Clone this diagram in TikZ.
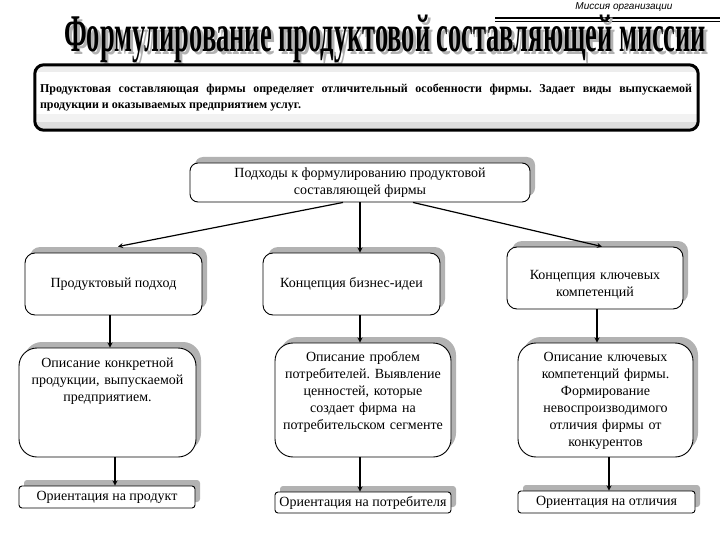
\documentclass[tikz,border=0pt]{standalone}
\usepackage{fontspec}
\setmainfont{Liberation Serif}
\newfontfamily\tagfont{Liberation Sans}
\usepackage{xcolor}
\usepackage{tikz}
\usetikzlibrary{calc, positioning, shadows}
\frenchspacing

\begin{document}
\begin{tikzpicture}[>=stealth, x=1pt, y=-1pt,
    font=\fontsize{14}{17}\selectfont,
    shadowbox/.style={draw, fill=white, line width=0.9pt, inner sep=0pt,
        drop shadow={shadow xshift=5pt, shadow yshift=6pt, fill=black!30, opacity=1}},
    headbox/.style={shadowbox, rounded corners=10pt, minimum width=177pt, minimum height=62pt, align=center},
    descbox/.style={shadowbox, rounded corners=18pt, minimum width=176pt},
    orientbox/.style={shadowbox, rounded corners=3pt, minimum width=176pt, minimum height=22pt},
    desctext/.style={inner sep=0pt, align=center, text width=176pt},
    arr/.style={->, line width=1.2pt}]

    \useasboundingbox (0,0) rectangle (720,540);

    % =================================================================
    % 1. ЗАГОЛОВОК
    % =================================================================
    \node[anchor=base, inner sep=0pt, font=\tagfont\itshape\fontsize{10}{12}\selectfont] (tag) at (624,10) {Миссия организации};
    \draw[line width=2pt] (495,18) -- (720,18);
    \draw[line width=0.8pt] (495,21.5) -- (720,21.5);

    % тень заголовка и сам заголовок
    \node[anchor=base west, inner sep=0pt, text=black!30] at (67,55)
        {\resizebox{642pt}{\height}{\fontsize{53}{53}\selectfont\bfseries Формулирование продуктовой составляющей миссии}};
    \node[anchor=base west, inner sep=0pt] (title) at (64,52)
        {\resizebox{642pt}{\height}{\fontsize{53}{53}\selectfont\bfseries Формулирование продуктовой составляющей миссии}};

    % =================================================================
    % 2. ОПРЕДЕЛЕНИЕ
    % =================================================================
    \node[fill=white, rounded corners=9pt, minimum width=663pt, minimum height=65pt] (mission) at (366.5,97.5) {};
    % светло-серые полосы сверху и снизу
    \begin{scope}
        \clip[rounded corners=9pt] (mission.north west) rectangle (mission.south east);
        \fill[black!7] (35,65) rectangle (698,72);
        \fill[black!5] (35,114) rectangle (698,122);
        \fill[black!13] (35,122) rectangle (698,130);
    \end{scope}
    \draw[line width=3pt, rounded corners=9pt] (mission.north west) rectangle (mission.south east);
    \node[text width=652pt, inner sep=0pt, align=justify, font=\fontsize{12}{16}\selectfont\bfseries] at (366,98)
        {Продуктовая составляющая фирмы определяет отличительный особенности фирмы. Задает виды выпускаемой\linebreak
         продукции и оказываемых предприятием услуг.};

    % =================================================================
    % 3. ПОДХОДЫ
    % =================================================================
    \node[shadowbox, rounded corners=8pt, minimum width=340pt, minimum height=39pt, align=center] (approach) at (360,182.5)
        {Подходы к формулированию продуктовой\\составляющей фирмы};

    \node[headbox] (prod) at (113.5,284) {Продуктовый подход};
    \node[headbox] (biz) at (351.5,284) {Концепция бизнес-идеи};
    \node[headbox, minimum width=176pt] (comp) at (595,278) {};
    \node[desctext, below=24pt of comp.north] {Концепция ключевых\\компетенций};

    % описания
    \node[descbox, minimum width=177pt, minimum height=109pt] (dprod) at (107.5,402.5) {};
    \node[desctext, below=10pt of dprod.north] {Описание конкретной\\продукции, выпускаемой\\предприятием.};

    \node[descbox, minimum height=114pt] (dbiz) at (363,400) {};
    \node[desctext, below=9pt of dbiz.north] {Описание проблем\\потребителей. Выявление\\ценностей, которые\\создает фирма на\\потребительском сегменте};

    \node[descbox, minimum width=175pt, minimum height=114pt] (dcomp) at (605.5,400) {};
    \node[desctext, below=9pt of dcomp.north] {Описание ключевых\\компетенций фирмы.\\Формирование\\невоспроизводимого\\отличия фирмы от\\конкурентов};

    % ориентации
    \node[orientbox] (oprod) at (107,497) {Ориентация на продукт};
    \node[orientbox, minimum height=21pt] (obiz) at (363,502.5) {Ориентация на потребителя};
    \node[orientbox, minimum width=177pt] (ocomp) at (606.5,502) {Ориентация на отличия};

    % =================================================================
    % 4. СТРЕЛКИ
    % =================================================================
    \draw[arr] ([xshift=-17pt]approach.south) -- ([xshift=4.5pt, yshift=6pt]prod.north);
    \draw[arr] (approach.south) -- ([xshift=8.5pt]biz.north);
    \draw[arr] ([xshift=53pt]approach.south) -- ([xshift=7pt]comp.north);

    \draw[arr] ([xshift=-3.5pt]prod.south) -- ([xshift=2.5pt]dprod.north);
    \draw[arr] ([xshift=7.5pt]dprod.south) -- ([xshift=8pt]oprod.north);

    \draw[arr] ([xshift=8.5pt]biz.south) -- ([xshift=-3pt]dbiz.north);
    \draw[arr] ([xshift=-3pt]dbiz.south) -- ([xshift=-3pt]obiz.north);

    \draw[arr] ([xshift=2pt]comp.south) -- ([xshift=-8.5pt]dcomp.north);
    \draw[arr] ([xshift=3.5pt]dcomp.south) -- ([xshift=2.5pt]ocomp.north);

\end{tikzpicture}
\end{document}
